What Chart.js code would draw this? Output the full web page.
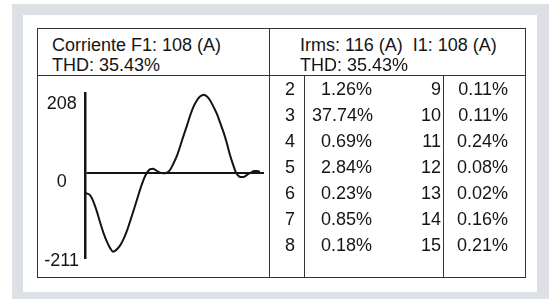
<!DOCTYPE html>
<html>
<head>
<meta charset="utf-8">
<script src="https://cdn.jsdelivr.net/npm/chart.js@4/dist/chart.umd.min.js"></script>
<style>
  html, body { margin: 0; padding: 0; background: #ffffff; }
  body { width: 549px; height: 299px; position: relative; overflow: hidden;
         font-family: "Liberation Sans", Arial, Helvetica, sans-serif; color: #151515; }
  .abs { position: absolute; }
  #frame { left: 12px; top: 4px; width: 537px; height: 295px; background: #dde1e6; }
  #inner { left: 23px; top: 15px; width: 514px; height: 277px; background: #ffffff; }
  #box { left: 37px; top: 28px; width: 487px; height: 248px; border: 1px solid #333333; }
  .hl { height: 1px; background: #333333; }
  .vl { width: 1px; background: #333333; }
  .txt { font-size: 18px; line-height: 20px; white-space: pre; }
  .cell { font-size: 18px; height: 26px; line-height: 26px; text-align: right; white-space: pre; }
  #chartWrap { left: 38px; top: 76px; width: 231px; height: 200px; }
</style>
</head>
<body>
<div id="frame" class="abs"></div>
<div id="inner" class="abs"></div>
<div id="box" class="abs"></div>
<div class="abs hl" style="left:37px; top:75px; width:488px;"></div>
<div class="abs vl" style="left:269px; top:28px; height:249px;"></div>
<div class="abs vl" style="left:304px; top:75px; height:202px;"></div>
<div class="abs vl" style="left:443px; top:75px; height:202px;"></div>
<div id="chartWrap" class="abs"><canvas id="c" width="231" height="200"></canvas></div>
<div id="texts"></div>
<script>
// ---- data ----
const headerLeft = ['Corriente F1: 108 (A)', 'THD: 35.43%'];
const headerRight = ['Irms: 116 (A)  I1: 108 (A)', 'THD: 35.43%'];
const harmonicOrders = [2, 3, 4, 5, 6, 7, 8, 9, 10, 11, 12, 13, 14, 15];
const harmonicPct = [1.26, 37.74, 0.69, 2.84, 0.23, 0.85, 0.18, 0.11, 0.11, 0.24, 0.08, 0.02, 0.16, 0.21];
const yTicks = [208, 0, -211];
const waveT = [0, 3, 5, 8, 12, 15, 19, 22, 25, 28, 31, 35, 39, 42, 45, 49, 52, 55, 59, 62, 65, 68, 71, 75, 78, 82, 85, 88, 92, 95, 98, 102, 105, 108, 112, 115, 119, 122, 125, 129, 132, 135, 139, 142, 145, 148, 151, 154, 157, 160, 163, 166, 169, 172, 175];
const waveI = [-54, -57, -60, -75, -105, -132, -165, -185, -201, -211, -207, -195, -175, -155, -131, -98, -72, -46, -16, 0, 9, 10, 6, 0, -2, 0, 7, 22, 45, 69, 94, 126, 151, 173, 193, 203, 208, 203, 193, 173, 156, 134, 104, 77, 47, 22, 0, -10, -12, -10, -4, 0, 4, 4, 2];

// ---- texts ----
const texts = document.getElementById('texts');
function addText(cls, left, top, width, str) {
  const d = document.createElement('div');
  d.className = 'abs ' + cls;
  d.style.left = left + 'px';
  d.style.top = top + 'px';
  if (width) d.style.width = width + 'px';
  d.textContent = str;
  texts.appendChild(d);
}
headerLeft.forEach((s, i) => addText('txt', 52, 35 + i * 20, 0, s));
headerRight.forEach((s, i) => addText('txt', 300, 35 + i * 20, 0, s));
const fmt = v => v.toFixed(2) + '%';
for (let i = 0; i < 7; i++) {
  const top = 76 + i * 26;
  addText('cell', 265, top, 30, String(harmonicOrders[i]));
  addText('cell', 312, top, 60, fmt(harmonicPct[i]));
  addText('cell', 400, top, 41, String(harmonicOrders[i + 7]));
  addText('cell', 448, top, 60, fmt(harmonicPct[i + 7]));
}

// ---- chart ----
new Chart(document.getElementById('c'), {
  type: 'line',
  data: {
    datasets: [{
      data: waveT.map((t, i) => ({ x: t, y: waveI[i] })),
      borderColor: '#141414',
      borderWidth: 2,
      pointRadius: 0,
      cubicInterpolationMode: 'monotone',
      fill: false,
      clip: false
    }]
  },
  options: {
    responsive: false,
    animation: false,
    devicePixelRatio: 1,
    layout: { padding: { left: 0, right: 5, top: 4, bottom: 18 } },
    plugins: { legend: { display: false }, tooltip: { enabled: false } },
    scales: {
      x: { type: 'linear', min: 0, max: 179, display: false },
      y: {
        type: 'linear', min: -228, max: 213,
        afterBuildTicks: s => { s.ticks = yTicks.map(v => ({ value: v })); },
        afterFit: s => { s.width = 47; },
        ticks: {
          color: '#151515',
          font: { family: '"Liberation Sans", Arial, sans-serif', size: 18 },
          padding: 6,
          crossAlign: 'center',
          labelOffset: 9,
          autoSkip: false
        },
        grid: {
          drawTicks: false,
          lineWidth: 2,
          color: ctx => (ctx.tick && ctx.tick.value === 0) ? '#141414' : 'rgba(0,0,0,0)'
        },
        border: { display: true, color: '#141414', width: 2.5 }
      }
    }
  }
});
</script>
</body>
</html>
